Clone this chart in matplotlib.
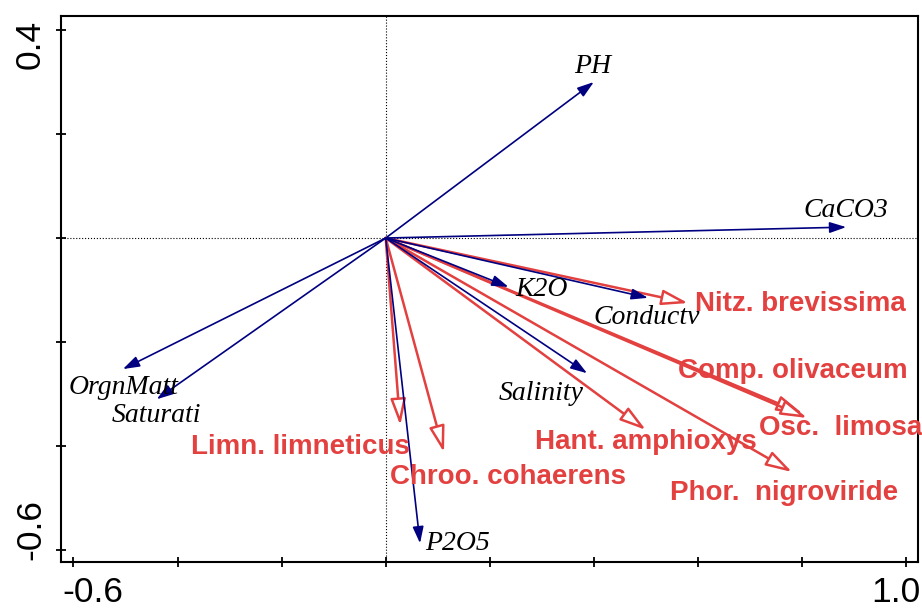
import matplotlib
matplotlib.use("Agg")
import matplotlib.pyplot as plt
from matplotlib.patches import FancyArrowPatch
import matplotlib.transforms as mtransforms

# environmental variables (biplot scores)
env_names = ["PH", "CaCO3", "K2O", "Conductv", "Salinity", "P2O5", "OrgnMatt", "Saturati"]
env_x = [0.400, 0.885, 0.236, 0.504, 0.387, 0.066, -0.505, -0.440]
env_y = [0.300, 0.021, -0.094, -0.115, -0.260, -0.587, -0.252, -0.310]

# species scores
spp_names = ["Nitz. brevissima", "Comp. olivaceum", "Osc.  limosa", "Hant. amphioxys",
             "Phor.  nigroviride", "Limn. limneticus", "Chroo. cohaerens"]
spp_x = [0.581, 0.802, 0.810, 0.500, 0.781, 0.028, 0.112]
spp_y = [-0.125, -0.338, -0.346, -0.369, -0.450, -0.360, -0.412]

x_ticks = [-0.6, -0.4, -0.2, 0.0, 0.2, 0.4, 0.6, 0.8, 1.0]
y_ticks = [-0.6, -0.4, -0.2, 0.0, 0.2, 0.4]

# label offsets in points from arrow tip
env_off = [(-0.7, 11.5, "center"), (0, 12.2, "center"), (5, -2, "left"), (-0.7, -14.4, "center"),
           (-33, -14.4, "center"), (3.6, 0, "left"), (0.7, -13, "center"), (0, -11.5, "center")]
spp_off = [(5, -1), (-90, 30.7), (-34.6, -7.5), (-80, -9), (-88, -15.4), (-150.5, -15.4), (-39, -17.6)]

RED = "#e34040"
NAVY = "#000080"

fig = plt.figure(figsize=(9.22, 6.10), dpi=100)
ax = fig.add_axes([61 / 922, 48 / 610, 857 / 922, 546 / 610])
ax.set_xlim(-0.624, 1.023)
ax.set_ylim(-0.623, 0.427)

ax.axhline(0, color="black", ls=":", lw=0.8, zorder=1)
ax.axvline(0, color="black", ls=":", lw=0.8, zorder=1)

for x, y in zip(spp_x, spp_y):
    a = FancyArrowPatch((0, 0), (x, y), arrowstyle="-|>,head_length=16,head_width=4.7",
                        mutation_scale=1, shrinkA=0, shrinkB=0, lw=1.8,
                        edgecolor=RED, facecolor="white", zorder=2)
    ax.add_patch(a)

for x, y in zip(env_x, env_y):
    a = FancyArrowPatch((0, 0), (x, y), arrowstyle="-|>,head_length=10,head_width=3.3",
                        mutation_scale=1, shrinkA=0, shrinkB=0, lw=1.2,
                        color=NAVY, zorder=3)
    ax.add_patch(a)

for name, x, y, (dx, dy, ha) in zip(env_names, env_x, env_y, env_off):
    ax.annotate(name, (x, y), xytext=(dx, dy), textcoords="offset points",
                ha=ha, va="center", fontsize=20, style="italic",
                family="Liberation Serif", color="black", zorder=4)

for name, x, y, (dx, dy) in zip(spp_names, spp_x, spp_y, spp_off):
    ax.annotate(name, (x, y), xytext=(dx, dy), textcoords="offset points",
                ha="left", va="center", fontsize=20, fontweight="bold",
                family="Liberation Sans", color=RED, zorder=5)

# ticks
ax.set_xticks(x_ticks)
ax.set_yticks(y_ticks)
ax.set_xticklabels([])
ax.set_yticklabels([])
ax.tick_params(direction="inout", length=7, width=1.3)
for s in ax.spines.values():
    s.set_linewidth(1.5)

bx = mtransforms.blended_transform_factory(ax.transData, ax.transAxes)
by = mtransforms.blended_transform_factory(ax.transAxes, ax.transData)
tick_font = dict(fontsize=25.5, family="Liberation Sans", color="black")
ax.text(-0.622, -0.073, "-0.6", transform=bx, ha="left", va="baseline", clip_on=False, **tick_font)
ax.text(1.027, -0.073, "1.0", transform=bx, ha="right", va="baseline", clip_on=False, **tick_font)
ax.text(-0.0245, 0.419, "0.4", transform=by, rotation=90, rotation_mode="anchor",
        ha="right", va="baseline", clip_on=False, **tick_font)
ax.text(-0.0245, -0.619, "-0.6", transform=by, rotation=90, rotation_mode="anchor",
        ha="left", va="baseline", clip_on=False, **tick_font)

fig.savefig("out.png", dpi=100)
